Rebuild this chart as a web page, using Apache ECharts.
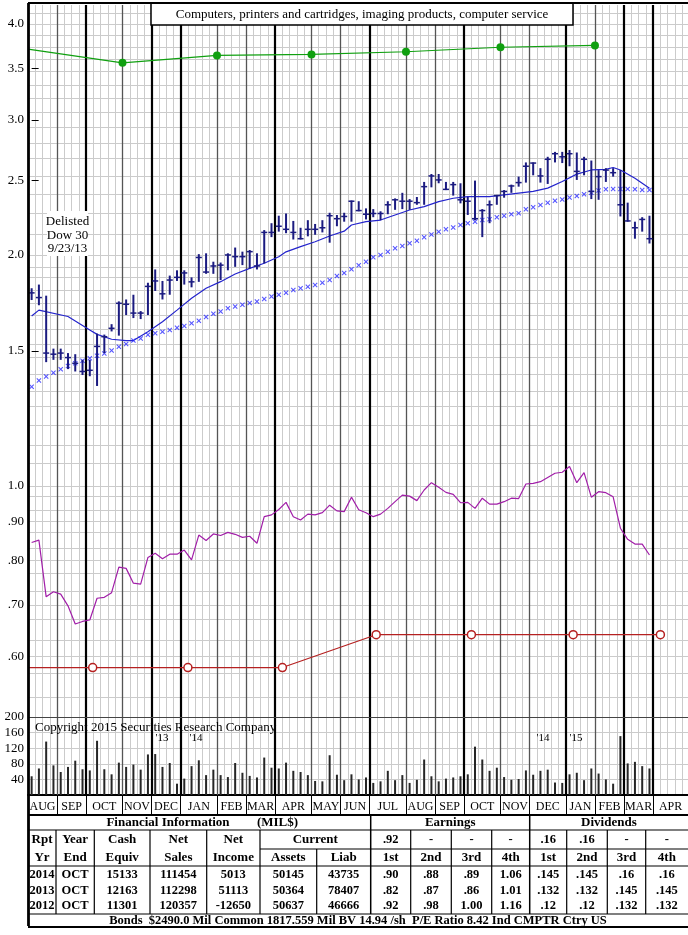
<!DOCTYPE html>
<html><head><meta charset="utf-8">
<script src="https://cdn.jsdelivr.net/npm/echarts@6/dist/echarts.min.js"></script>
<style>html,body{margin:0;padding:0;background:#fff}#c{width:688px;height:935px}</style>
</head><body><div id="c"></div>
<script>
// ---------------- DATA ----------------
const highs = [1.81,1.83,1.77,1.51,1.51,1.49,1.485,1.46,1.46,1.58,
1.575,1.625,1.74,1.75,1.775,1.69,1.84,1.915,1.85,1.88,
1.91,1.91,1.87,2.005,2.01,1.96,1.955,2.01,2.045,2.02,
2.03,2.01,2.155,2.20,2.25,2.265,2.215,2.17,2.22,2.195,
2.22,2.27,2.255,2.27,2.355,2.35,2.30,2.295,2.28,2.35,
2.37,2.41,2.365,2.38,2.49,2.55,2.55,2.49,2.49,2.48,
2.38,2.50,2.295,2.355,2.395,2.43,2.47,2.53,2.64,2.64,
2.595,2.685,2.725,2.725,2.74,2.72,2.685,2.655,2.58,2.595,
2.595,2.58,2.34,2.21,2.24,2.25];
const lows = [1.747,1.72,1.45,1.46,1.46,1.42,1.41,1.395,1.39,1.35,
1.49,1.59,1.57,1.67,1.655,1.65,1.67,1.795,1.75,1.775,
1.85,1.83,1.815,1.845,1.89,1.89,1.855,1.91,1.93,1.94,
1.92,1.915,1.95,2.11,2.145,2.135,2.095,2.095,2.115,2.125,
2.14,2.075,2.18,2.21,2.21,2.28,2.225,2.24,2.22,2.26,
2.29,2.295,2.29,2.325,2.325,2.45,2.48,2.43,2.39,2.335,
2.255,2.22,2.11,2.20,2.325,2.375,2.41,2.455,2.485,2.54,
2.485,2.475,2.64,2.635,2.61,2.505,2.54,2.365,2.36,2.49,
2.53,2.245,2.21,2.10,2.145,2.07];
const closes = [1.785,1.76,1.49,1.485,1.49,1.47,1.445,1.41,1.415,1.52,
1.565,1.605,1.73,1.725,1.68,1.68,1.82,1.85,1.78,1.855,
1.87,1.895,1.845,1.985,1.90,1.935,1.94,2.0,1.99,1.99,
2.02,1.935,2.14,2.14,2.18,2.16,2.14,2.10,2.16,2.16,
2.17,2.25,2.23,2.245,2.35,2.285,2.26,2.265,2.265,2.325,
2.36,2.35,2.35,2.34,2.455,2.535,2.505,2.435,2.47,2.36,
2.35,2.23,2.285,2.325,2.39,2.42,2.46,2.485,2.61,2.635,
2.535,2.665,2.71,2.685,2.71,2.57,2.665,2.42,2.53,2.58,
2.56,2.325,2.215,2.17,2.225,2.10];
// short moving average (solid), read at these weeks
const maShortWeeks = [0,1,5,8,9,11,13,14,16,18,20,22,24,26,28,30,32,34,35,37,39,41,43,44,46,48,50,52,54,56,58,60,62,63,65,67,69,71,73,75,77,79,80,81,83,85];
const maShortVals  = [1.665,1.695,1.663,1.597,1.576,1.553,1.547,1.547,1.588,1.637,1.695,1.756,1.81,1.846,1.889,1.921,1.951,1.989,2.019,2.051,2.081,2.117,2.148,2.188,2.21,2.221,2.255,2.289,2.312,2.347,2.371,2.382,2.382,2.382,2.395,2.408,2.42,2.444,2.493,2.549,2.581,2.586,2.6,2.581,2.518,2.444];
// long moving average (x markers), weekly
const maLong = [1.347,1.372,1.389,1.405,1.419,1.433,1.445,1.456,1.467,1.478,
1.488,1.501,1.518,1.531,1.547,1.557,1.574,1.581,1.589,1.597,
1.608,1.616,1.630,1.642,1.660,1.677,1.688,1.705,1.714,1.722,
1.731,1.740,1.752,1.766,1.775,1.786,1.800,1.810,1.818,1.828,
1.840,1.855,1.877,1.895,1.916,1.939,1.960,1.986,2.000,2.019,
2.041,2.054,2.071,2.087,2.109,2.127,2.145,2.160,2.172,2.188,
2.199,2.210,2.221,2.226,2.240,2.249,2.260,2.267,2.294,2.308,
2.324,2.339,2.354,2.363,2.377,2.387,2.400,2.411,2.426,2.435,
2.437,2.437,2.437,2.435,2.431,2.431];
// relative strength (purple)
const relStrength = [0.844,0.850,0.717,0.728,0.723,0.698,0.661,0.666,0.669,0.714,
0.716,0.726,0.784,0.781,0.747,0.745,0.807,0.817,0.804,0.815,
0.815,0.825,0.801,0.863,0.849,0.866,0.862,0.870,0.865,0.857,
0.860,0.842,0.912,0.917,0.932,0.952,0.912,0.903,0.919,0.917,
0.923,0.944,0.928,0.926,0.967,0.931,0.923,0.912,0.919,0.935,
0.954,0.973,0.970,0.957,0.988,1.010,0.996,0.981,0.975,0.951,
0.952,0.935,0.964,0.947,0.947,0.954,0.964,0.963,1.006,1.008,
1.013,1.026,1.039,1.042,1.060,1.010,1.041,0.967,0.983,0.980,
0.968,0.881,0.852,0.840,0.840,0.813];
// weekly volume
const volume = [48,68,137,76,59,72,88,66,63,139,
66,53,83,72,78,65,104,105,72,82,
29,42,74,89,51,65,51,46,82,57,
49,45,96,70,68,83,62,59,51,36,
35,102,52,38,53,40,45,31,35,62,
38,51,31,39,91,48,35,42,45,48,
53,124,91,62,70,46,39,41,63,52,
62,65,32,31,53,57,38,68,55,40,
29,151,81,85,74,68];
// 12-month earnings (green) and dividend rate (red)
const epsWeeks = [-0.5,12.5,25.5,38.5,51.5,64.5,77.5];
const epsVals  = [3.71,3.56,3.64,3.65,3.68,3.73,3.75];
const divWeeks = [-0.5,8.4,21.5,34.5,47.4,60.5,74.5,86.5];
const divVals  = [0.58,0.58,0.58,0.58,0.64,0.64,0.64,0.64];
// months
const monthNames  = ['AUG','SEP','OCT','NOV','DEC','JAN','FEB','MAR','APR','MAY','JUN','JUL','AUG','SEP','OCT','NOV','DEC','JAN','FEB','MAR','APR'];
const monthStarts = [-0.5,3.5,7.5,12.5,16.5,20.5,25.5,29.5,33.5,38.5,42.5,46.5,51.5,55.5,59.5,64.5,68.5,73.5,77.5,81.5,85.5];
const heavyMonthLines = [7.5,16.5,20.5,33.5,46.5,59.5,73.5,81.5,85.5];
const priceTicks = [4.0,3.5,3.0,2.5,2.0,1.5,1.0,0.9,0.8,0.7,0.6];
const volumeTicks = [40,80,120,160,200];
// table
const title = 'Computers, printers and cartridges, imaging products, computer service';
const rptYears = ['2014','2013','2012'];
const yearEnds = ['OCT','OCT','OCT'];
const cashEquiv = ['15133','12163','11301'];
const netSales = ['111454','112298','120357'];
const netIncome = ['5013','51113','-12650'];
const curAssets = ['50145','50364','50637'];
const curLiab = ['43735','78407','46666'];
const earnings = [['.90','.88','.89','1.06'],['.82','.87','.86','1.01'],['.92','.98','1.00','1.16']];
const dividends = [['.145','.145','.16','.16'],['.132','.132','.145','.145'],['.12','.12','.132','.132']];
const earnLatest = ['.92','-','-','-'];
const divLatest = ['.16','.16','-','-'];
const quarterHdr = ['1st','2nd','3rd','4th'];
const footer = 'Bonds  $2490.0 Mil Common 1817.559 Mil BV 14.94 /sh  P/E Ratio 8.42 Ind CMPTR Ctry US';

// ---------------- CHART ----------------
const XMIN = -0.5, XMAX = 90.3;
const SERIF = '"Liberation Serif", "Times New Roman", serif';

// horizontal ratio grid: 15 divisions per octave
const hLines = [];
for (let k = 1; k <= 15; k++) hLines.push(0.5 + k / 30);
for (let k = 1; k <= 15; k++) hLines.push(1 + k / 15);
for (let k = 1; k <= 16; k++) hLines.push(2 + 2 * k / 15);

function monthLineData() {
  return monthStarts.slice(1).map(v => {
    const heavy = heavyMonthLines.indexOf(v) >= 0;
    return { xAxis: v, lineStyle: { color: heavy ? '#000' : '#555', width: heavy ? 2.2 : 1.3, type: 'solid' } };
  });
}
const monthEnds = monthStarts.slice(1).concat([XMAX]);
const monthCenters = monthStarts.map((s, k) => (s + monthEnds[k]) / 2);

const barsData = highs.map((h, i) => [i, h, lows[i], closes[i]]);

const option = {
  animation: false,
  backgroundColor: '#fff',
  grid: [
    { left: 28, right: 0, top: 5, height: 712 },
    { left: 28, right: 0, top: 717, height: 78 }
  ],
  xAxis: [
    { gridIndex: 0, type: 'value', min: XMIN, max: XMAX, show: false },
    { gridIndex: 0, type: 'value', min: 0, max: XMAX - XMIN, interval: 1,
      axisLine: { show: false }, axisTick: { show: false }, axisLabel: { show: false },
      splitLine: { show: true, lineStyle: { color: '#cbcbcb', width: 1 } } },
    { gridIndex: 1, type: 'value', min: XMIN, max: XMAX, position: 'bottom',
      axisLine: { show: true, onZero: false, lineStyle: { color: '#000', width: 2 } },
      axisTick: { show: true, customValues: monthStarts.slice(1), length: 20, inside: false, lineStyle: { color: '#000', width: 1 } },
      axisLabel: { show: true, customValues: monthCenters, margin: 6,
        fontFamily: SERIF, fontSize: 12, color: '#000',
        formatter: v => { let b = 0; monthCenters.forEach((c, k) => { if (Math.abs(c - v) < Math.abs(monthCenters[b] - v)) b = k; }); return monthNames[b]; } },
      splitLine: { show: false } },
    { gridIndex: 1, type: 'value', min: 0, max: XMAX - XMIN, interval: 1,
      axisLine: { show: false }, axisTick: { show: false }, axisLabel: { show: false },
      splitLine: { show: true, lineStyle: { color: '#cbcbcb', width: 1 } } }
  ],
  yAxis: [
    { gridIndex: 0, type: 'log', logBase: 10, min: 0.5, max: 4.234,
      axisLine: { show: false },
      axisTick: { show: true, inside: true, length: 7, customValues: priceTicks, lineStyle: { color: '#000', width: 1 } },
      axisLabel: { show: true, customValues: priceTicks, margin: 4, fontFamily: SERIF, fontSize: 13, color: '#000',
        formatter: v => v >= 1 ? v.toFixed(1) : '.' + Math.round(v * 100) },
      splitLine: { show: false } },
    { gridIndex: 1, type: 'value', min: 0, max: 200, interval: 40,
      axisLine: { show: false }, axisTick: { show: false },
      axisLabel: { show: true, margin: 4, fontFamily: SERIF, fontSize: 13, color: '#000',
        formatter: v => v === 0 ? '' : String(v) },
      splitLine: { show: true, lineStyle: { color: '#cbcbcb', width: 1 } } }
  ],
  series: [
    { name: 'gridlines0', type: 'line', xAxisIndex: 0, yAxisIndex: 0, data: [[0, 1]], symbol: 'none',
      lineStyle: { opacity: 0 }, silent: true, z: 1,
      markLine: { silent: true, symbol: 'none', z: 1, label: { show: false }, animation: false,
        data: hLines.map(v => ({ yAxis: v, lineStyle: { color: '#cbcbcb', width: 1, type: 'solid' } })).concat(monthLineData()) } },
    { name: 'gridlines1', type: 'line', xAxisIndex: 2, yAxisIndex: 1, data: [[0, 0]], symbol: 'none',
      lineStyle: { opacity: 0 }, silent: true, z: 1,
      markLine: { silent: true, symbol: 'none', z: 1, label: { show: false }, animation: false,
        data: monthLineData().concat([{ yAxis: 200, lineStyle: { color: '#444', width: 1.2, type: 'solid' } }]) } },
    { name: 'eps', type: 'line', xAxisIndex: 0, yAxisIndex: 0, z: 6,
      data: epsWeeks.map((w, k) => ({ value: [w, epsVals[k]], symbol: k === 0 ? 'none' : 'circle' })),
      symbolSize: 8, itemStyle: { color: '#10a010' }, lineStyle: { color: '#10a010', width: 1.2 } },
    { name: 'dividend', type: 'line', xAxisIndex: 0, yAxisIndex: 0, z: 6,
      data: divWeeks.map((w, k) => ({ value: [w, divVals[k]], symbol: k === 0 ? 'none' : 'circle' })),
      symbolSize: 8, itemStyle: { color: '#fff', borderColor: '#b52020', borderWidth: 1.5 },
      lineStyle: { color: '#b52020', width: 1.2 } },
    { name: 'rs', type: 'line', xAxisIndex: 0, yAxisIndex: 0, z: 6, symbol: 'none',
      data: relStrength.map((v, i) => [i, v]), lineStyle: { color: '#a11ea8', width: 1.2 } },
    { name: 'maLong', type: 'scatter', xAxisIndex: 0, yAxisIndex: 0, z: 7,
      symbol: 'path://M0,1.5L1.5,0L5,3.5L8.5,0L10,1.5L6.5,5L10,8.5L8.5,10L5,6.5L1.5,10L0,8.5L3.5,5Z',
      symbolSize: 5, itemStyle: { color: '#2b2bff' }, data: maLong.map((v, i) => [i, v]) },
    { name: 'maShort', type: 'line', xAxisIndex: 0, yAxisIndex: 0, z: 7, symbol: 'none',
      data: maShortWeeks.map((w, k) => [w, maShortVals[k]]), lineStyle: { color: '#2424cc', width: 1.2 } },
    { name: 'price', type: 'custom', xAxisIndex: 0, yAxisIndex: 0, z: 8,
      data: barsData, encode: { x: 0, y: [1, 2, 3] },
      renderItem: (params, api) => {
        const x = api.value(0);
        const hi = api.coord([x, api.value(1)]);
        const lo = api.coord([x, api.value(2)]);
        const cl = api.coord([x, api.value(3)]);
        return { type: 'group', children: [
          { type: 'line', shape: { x1: hi[0], y1: hi[1], x2: lo[0], y2: lo[1] }, style: { stroke: '#1b1b80', lineWidth: 2 } },
          { type: 'line', shape: { x1: cl[0] - 3, y1: cl[1], x2: cl[0] + 3, y2: cl[1] }, style: { stroke: '#1b1b80', lineWidth: 1.5 } }
        ] };
      } },
    { name: 'volume', type: 'bar', xAxisIndex: 2, yAxisIndex: 1, z: 6, barWidth: 2,
      itemStyle: { color: '#262626' }, data: volume.map((v, i) => [i, v]) }
  ],
  graphic: []
};

// ---------------- ANNOTATIONS & TABLE ----------------
const G = [];
function txt(x, y, s, opt) {
  opt = opt || {};
  G.push({ type: 'text', x: x, y: y, z: 100, style: {
    text: s, fill: '#000', textAlign: opt.align || 'center', align: opt.align || 'center',
    textVerticalAlign: 'middle', verticalAlign: 'middle',
    font: (opt.bold ? 'bold ' : '') + (opt.size || 13) + 'px ' + SERIF,
    lineHeight: opt.lh || 14 } });
}
function ln(x1, y1, x2, y2, w, c) {
  G.push({ type: 'line', z: 100, shape: { x1, y1, x2, y2 }, style: { stroke: c || '#000', lineWidth: w || 1 } });
}
// frame
ln(28, 3, 688, 3, 2);
ln(28.5, 3, 28.5, 926, 2.8);
// title box
G.push({ type: 'rect', z: 99, shape: { x: 151, y: 3, width: 422, height: 22 }, style: { fill: '#fff', stroke: '#000', lineWidth: 1.5 } });
txt(362, 14.5, title, { size: 13 });
// delisted note
G.push({ type: 'rect', z: 99, shape: { x: 47, y: 211, width: 41, height: 45 }, style: { fill: '#fff' } });
txt(67.5, 222, 'Delisted', { size: 13 });
txt(67.5, 235.5, 'Dow 30', { size: 13 });
txt(67.5, 249, '9/23/13', { size: 13 });
// volume notes
txt(35, 728, 'Copyright 2015 Securities Research Company', { size: 13, align: 'left' });
txt(162, 738, "'13", { size: 11 });
txt(196, 738, "'14", { size: 11 });
txt(543, 738, "'14", { size: 11 });
txt(576, 738, "'15", { size: 11 });

// table geometry
const yT = 815, yR1 = 830, yR2 = 849, yR3 = 866, yR7 = 914, yB = 927;
const finCols = [28, 56, 94.3, 150, 206.7, 260, 316.7, 370.7];
const qCols = [370.7, 410.7, 451.3, 491.7, 529.7, 566.7, 607.3, 645.7, 688];
ln(28, yT, 688, yT, 2);
ln(28, yR1, 688, yR1, 1.2);
ln(260, yR2, 688, yR2, 1.2);
ln(28, yR3, 688, yR3, 1.2);
ln(28, yR7, 688, yR7, 1.2);
ln(28, yB, 688, yB, 2);
[56, 94.3, 150, 206.7, 260].forEach(x => ln(x, yR1, x, yR7, 1.2));
ln(316.7, yR2, 316.7, yR7, 1.2);
[370.7, 529.7].forEach(x => ln(x, yT, x, yR7, 1.5));
[410.7, 451.3, 491.7, 566.7, 607.3, 645.7].forEach(x => ln(x, yR1, x, yR7, 1.2));
const fc = k => (finCols[k] + finCols[k + 1]) / 2;
const qc = k => (qCols[k] + qCols[k + 1]) / 2;
const B = { bold: true, size: 13 };
const D = { bold: true, size: 12.5 };
txt(168, 822.5, 'Financial Information', B);
txt(277.5, 822.5, '(MIL$)', B);
txt(450.2, 822.5, 'Earnings', B);
txt(608.9, 822.5, 'Dividends', B);
const hdr2 = ['Rpt', 'Year', 'Cash', 'Net', 'Net'];
const hdr3 = ['Yr', 'End', 'Equiv', 'Sales', 'Income', 'Assets', 'Liab'];
hdr2.forEach((s, k) => txt(fc(k), 840, s, B));
txt(315.3, 840, 'Current', B);
hdr3.forEach((s, k) => txt(fc(k), 858, s, B));
earnLatest.forEach((s, k) => txt(qc(k), 840, s, D));
divLatest.forEach((s, k) => txt(qc(k + 4), 840, s, D));
quarterHdr.forEach((s, k) => { txt(qc(k), 858, s, B); txt(qc(k + 4), 858, s, B); });
const rowY = [874.5, 890.5, 906];
rptYears.forEach((yr, r) => {
  const vals = [yr, yearEnds[r], cashEquiv[r], netSales[r], netIncome[r], curAssets[r], curLiab[r]];
  vals.forEach((s, k) => txt(fc(k), rowY[r], s, D));
  earnings[r].forEach((s, k) => txt(qc(k), rowY[r], s, D));
  dividends[r].forEach((s, k) => txt(qc(k + 4), rowY[r], s, D));
});
txt(358, 920.5, footer, D);

option.graphic = G;
const chart = echarts.init(document.getElementById('c'));
chart.setOption(option);
</script>
</body></html>
